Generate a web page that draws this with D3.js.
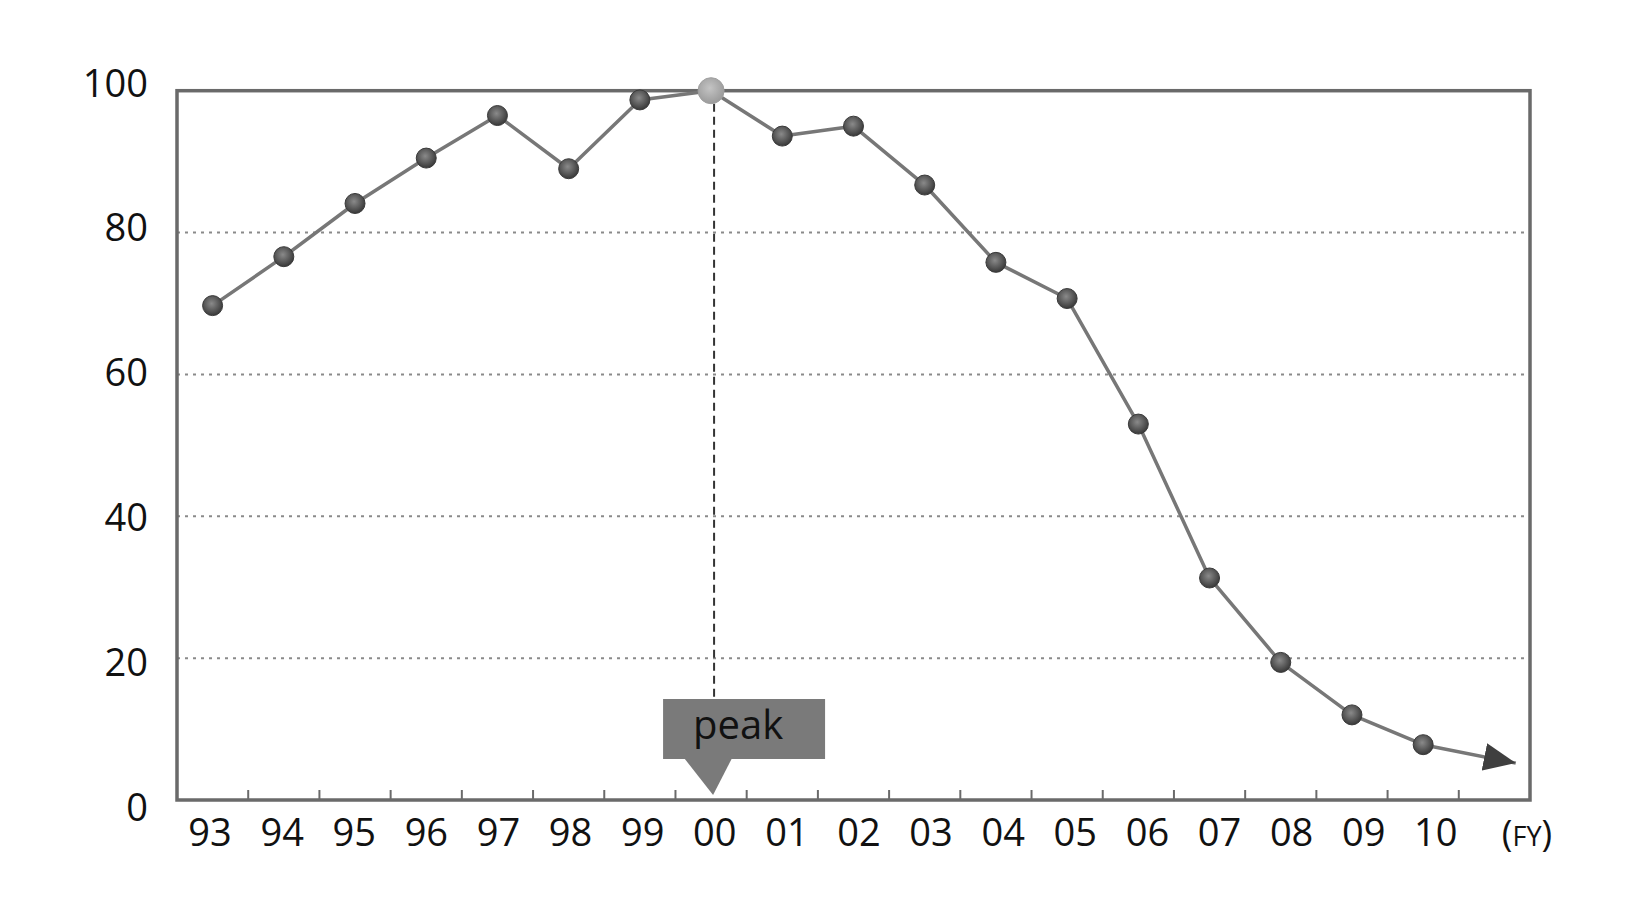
<!DOCTYPE html>
<html>
<head>
<meta charset="utf-8">
<script src="https://cdn.jsdelivr.net/npm/d3@7"></script>
<style>
  body { margin: 0; background: #fff; }
  text { font-family: "Open Sans", "Noto Sans", sans-serif; fill: #111; }
</style>
</head>
<body>
<svg id="chart" width="1630" height="914"></svg>
<script>
// data
var years = ["93","94","95","96","97","98","99","00","01","02","03","04","05","06","07","08","09","10"];
var values = [69.7, 76.6, 84.1, 90.5, 96.5, 89.0, 98.7, 100, 93.6, 95.0, 86.7, 75.8, 70.7, 53.0, 31.3, 19.4, 12.0, 7.8];
var yTicks = [0, 20, 40, 60, 80, 100];
var peakYear = "00";
var arrowValue = 5.2;   // where the trend arrow ends
var unitLabel = "FY";

var svg = d3.select("#chart");

// slots: one per year plus an empty one for the arrow
var slots = years.concat(["_"]);
var x = d3.scaleBand().domain(slots).range([177, 1530]);
var xLab = d3.scaleBand().domain(slots).range([174, 1544]);
var y = d3.scaleLinear().domain([0, 100]).range([800, 90.7]);
var yLab = d3.scaleLinear().domain([0, 100]).range([807, 83]);
var cx = function (d) { return x(d) + x.bandwidth() / 2; };

var defs = svg.append("defs");
var g1 = defs.append("radialGradient").attr("id", "dot").attr("cx", "45%").attr("cy", "40%").attr("r", "60%");
g1.append("stop").attr("offset", "0%").attr("stop-color", "#8a8a8a");
g1.append("stop").attr("offset", "100%").attr("stop-color", "#383838");
var g2 = defs.append("radialGradient").attr("id", "peakdot").attr("cx", "45%").attr("cy", "40%").attr("r", "60%");
g2.append("stop").attr("offset", "0%").attr("stop-color", "#c4c4c4");
g2.append("stop").attr("offset", "100%").attr("stop-color", "#9a9a9a");
defs.append("marker").attr("id", "arrow")
  .attr("viewBox", "0 0 32 28").attr("refX", 32).attr("refY", 14)
  .attr("markerWidth", 32).attr("markerHeight", 28)
  .attr("markerUnits", "userSpaceOnUse").attr("orient", "auto")
  .append("path").attr("d", "M0,0L32,14L0,28Z").attr("fill", "#3f3f3f");

// gridlines
svg.append("g").selectAll("line").data(yTicks.filter(function (t) { return t > 0 && t < 100; }))
  .join("line")
  .attr("x1", 177).attr("x2", 1530)
  .attr("y1", function (d) { return y(d); }).attr("y2", function (d) { return y(d); })
  .attr("stroke", "#8a8a8a").attr("stroke-width", 2).attr("stroke-dasharray", "3,5");

// frame
svg.append("rect").attr("x", 177).attr("y", y(100)).attr("width", 1530 - 177).attr("height", y(0) - y(100))
  .attr("fill", "none").attr("stroke", "#6a6a6a").attr("stroke-width", 3.5);

// x ticks between years
svg.append("g").selectAll("line").data(slots.slice(1))
  .join("line")
  .attr("x1", function (d) { return x(d); }).attr("x2", function (d) { return x(d); })
  .attr("y1", 800).attr("y2", 790)
  .attr("stroke", "#6a6a6a").attr("stroke-width", 2);

// y labels
svg.append("g").selectAll("text").data(yTicks)
  .join("text")
  .attr("x", 148).attr("y", function (d) { return yLab(d); })
  .attr("dy", "0.36em").attr("text-anchor", "end")
  .style("font-size", "38px").text(function (d) { return d; });

// x labels
svg.append("g").selectAll("text").data(years)
  .join("text")
  .attr("x", function (d) { return xLab(d) + xLab.bandwidth() / 2; }).attr("y", 846)
  .attr("text-anchor", "middle").style("font-size", "38px").text(function (d) { return d; });

var fy = svg.append("text").attr("x", 1527).attr("y", 846).attr("text-anchor", "middle").style("font-size", "36px");
fy.append("tspan").text("(");
fy.append("tspan").style("font-size", "27px").text(unitLabel);
fy.append("tspan").text(")");

// peak callout
var px = cx(peakYear) + 3;
var py = y(values[years.indexOf(peakYear)]);
svg.append("line").attr("x1", px).attr("x2", px).attr("y1", py).attr("y2", 699)
  .attr("stroke", "#333").attr("stroke-width", 2).attr("stroke-dasharray", "8,5");
svg.append("rect").attr("x", px - 51).attr("y", 699).attr("width", 162).attr("height", 60).attr("fill", "#7a7a7a");
svg.append("path").attr("d", "M" + (px - 30) + ",758L" + (px + 18) + ",758L" + (px - 1) + ",795Z").attr("fill", "#7a7a7a");
svg.append("text").attr("x", px + 24).attr("y", 739).attr("text-anchor", "middle")
  .style("font-size", "40px").text("peak");

// trend line
var line = d3.line().x(function (d) { return cx(d[0]); }).y(function (d) { return y(d[1]); });
var pts = years.map(function (d, i) { return [d, values[i]]; });
svg.append("path").datum(pts).attr("d", line)
  .attr("fill", "none").attr("stroke", "#777").attr("stroke-width", 3.5).attr("stroke-linejoin", "round");

// final arrow segment
var last = pts[pts.length - 1];
svg.append("line")
  .attr("x1", cx(last[0])).attr("y1", y(last[1]))
  .attr("x2", cx("_") + x.bandwidth() * 0.3).attr("y2", y(arrowValue))
  .attr("stroke", "#777").attr("stroke-width", 3.5).attr("marker-end", "url(#arrow)");

// markers
svg.append("g").selectAll("circle").data(pts)
  .join("circle")
  .attr("cx", function (d) { return cx(d[0]); }).attr("cy", function (d) { return y(d[1]); })
  .attr("r", function (d) { return d[0] === peakYear ? 13 : 10; })
  .attr("fill", function (d) { return d[0] === peakYear ? "url(#peakdot)" : "url(#dot)"; })
  .attr("stroke", function (d) { return d[0] === peakYear ? "#a0a0a0" : "#3a3a3a"; })
  .attr("stroke-width", 1);
</script>
</body>
</html>
